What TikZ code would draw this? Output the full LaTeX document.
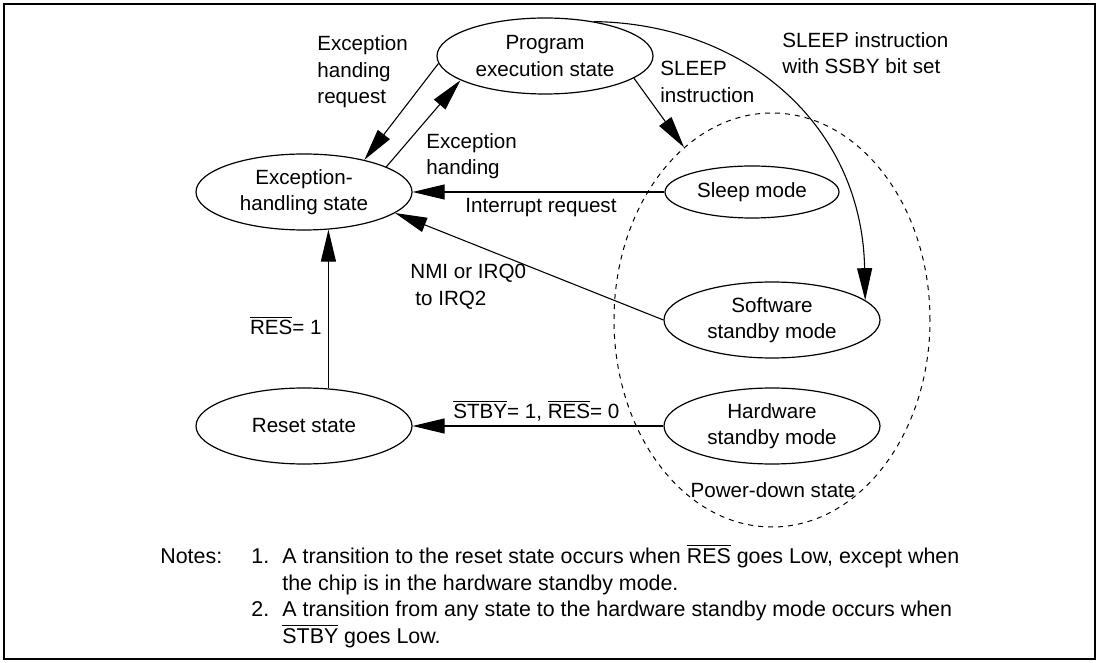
\documentclass[tikz,border=0pt]{standalone}
\usepackage{fontspec}
\setmainfont{Liberation Sans}
\usetikzlibrary{shapes.geometric,arrows.meta}
\newcommand{\ovl}[1]{$\overline{\mbox{#1}}$}
\tikzset{
		mode/.style={draw,ellipse,line width=0.6pt,inner sep=0pt,minimum width=108pt,minimum height=38pt,align=center},
		lbl/.style={inner sep=0pt,align=left,anchor=west},
		trans/.style={line width=0.55pt,-{Triangle[length=16pt,width=7.5pt]}},
		}
\tikzset{note/.style={inner sep=0pt,anchor=base west,font=\fontsize{10.7}{13.5}\selectfont}}

\begin{document}
\begin{tikzpicture}[x=0.5pt,y=-0.5pt,node distance=117pt,font=\fontsize{10.3}{13.3}\selectfont]
					\useasboundingbox (0,0) rectangle (1099,663);
					%FRAME
					\draw[line width=1.1pt] (4,4) rectangle (1095,659);
					%NODES for states
					\node[mode](exc) at (304,192){Exception-\\handling state};
					\node[mode](reset)[below of = exc]{Reset state};
					\node[mode](hw)[right of = reset, node distance=234pt]{Hardware\\standby mode};
					\node[mode](soft)[above of = hw, node distance=53pt]{Software\\standby mode};
					\node[mode,minimum width=87pt,minimum height=26pt](sleep)[above of = soft, node distance=64pt, xshift=-10pt]{Sleep mode};
					\node[mode](prog)[above of = exc, node distance=68pt, xshift=120.5pt]{Program\\execution state};
					%POWER-DOWN region
					\node[draw,ellipse,dash pattern=on 2.5pt off 2.5pt,line width=0.5pt,inner sep=0pt,minimum width=158pt,minimum height=207pt](pdown) at (soft){};
					\node(lpd) at (773,490){Power-down state};
					%PATHS
					\draw[trans] (prog.184) -- (exc.28);
					\draw[trans] (exc.17) -- (prog.196);
					\draw[trans] (sleep.west) -- (exc.east);
					\draw[trans] (soft.west) -- (exc.-13);
					\draw[trans] (reset.57) -- (exc.-57);
					\draw[trans] (hw.west) -- (reset.east);
					\draw[trans] (prog.-14) -- (pdown.117);
					\draw[trans] (prog.35) .. controls (745,24) and (862,125) .. (soft.12);
					%LABELS
					\node[lbl](lreq) at (317,72){Exception\\handing\\request};
					\node[lbl](lexh) at (426,156){Exception\\handing};
					\node[lbl](lint) at (465,208){Interrupt request};
					\node[lbl](lslp) at (660,82){SLEEP\\instruction};
					\node[lbl](lssby) at (782,53){SLEEP instruction\\with SSBY bit set};
					\node[lbl](lnmi) at (410,287){NMI or IRQ0\\\hspace*{2.5pt}to IRQ2};
					\node[lbl,anchor=east](lres) at (322,325){\ovl{RES}= 1};
					\node[lbl](lstby) at (453,411){\ovl{STBY}= 1, \ovl{RES}= 0};
					%NOTES
					\node[note](notes) at (160,563){Notes:};
					\node[note](n1) at (251,563){1.};
					\node[note](n1a) at (282,563){A transition to the reset state occurs when \ovl{RES} goes Low, except when};
					\node[note](n1b) at (282,590){the chip is in the hardware standby mode.};
					\node[note](n2) at (251,617){2.};
					\node[note](n2a) at (282,617){A transition from any state to the hardware standby mode occurs when};
					\node[note](n2b) at (282,643){\ovl{STBY} goes Low.};
				\end{tikzpicture}
\end{document}
